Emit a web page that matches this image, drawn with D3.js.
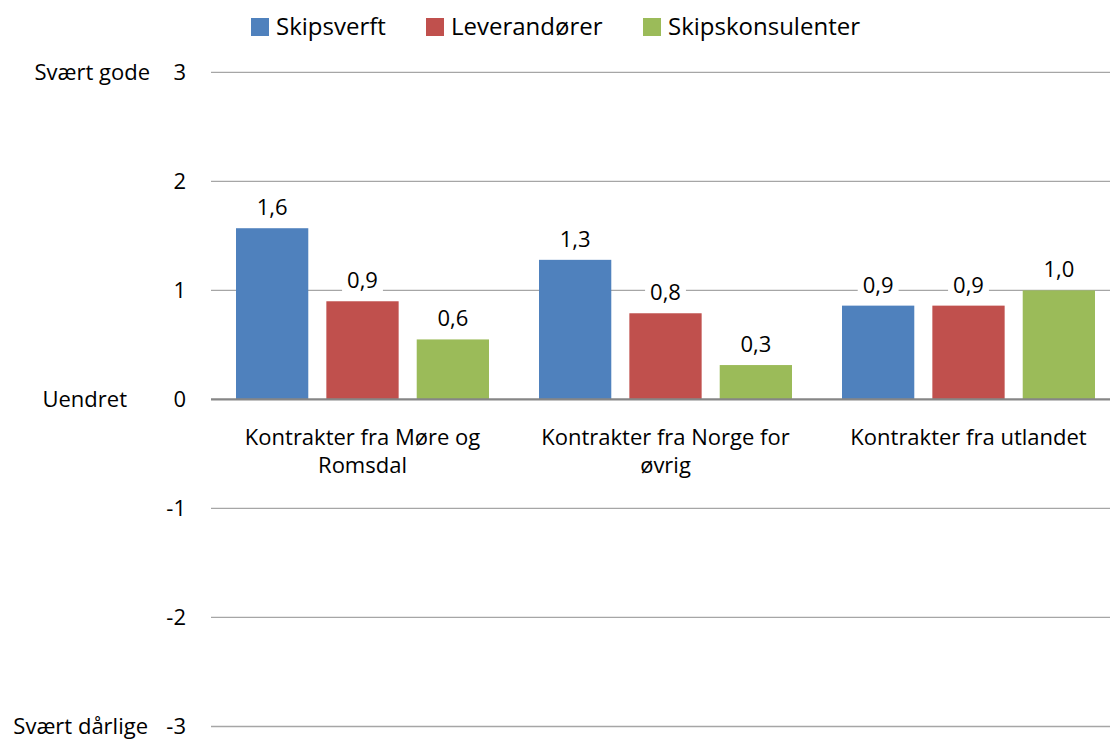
<!DOCTYPE html>
<html><head><meta charset="utf-8">
<script src="https://cdn.jsdelivr.net/npm/d3@7"></script>
<style>body{margin:0;background:#fff;} text{font-family:"Open Sans",sans-serif;fill:#000;}</style>
</head><body><svg id="c" width="1110" height="740"></svg>
<script>
const categories = [["Kontrakter fra Møre og","Romsdal"],["Kontrakter fra Norge for","øvrig"],["Kontrakter fra utlandet"]];
const series = ["Skipsverft","Leverandører","Skipskonsulenter"];
const colors = ["#4F81BD","#C0504D","#9BBB59"];
const skipsverft = [1.57, 1.28, 0.86];
const leverandorer = [0.90, 0.79, 0.86];
const skipskonsulenter = [0.55, 0.315, 1.0];
const yTicks = [-3,-2,-1,0,1,2,3];
const yTickNames = [{v:3,t:"Svært gode"},{v:0,t:"Uendret"},{v:-3,t:"Svært dårlige"}];
const values = [skipsverft, leverandorer, skipskonsulenter];

const FS = "22px";
const svg = d3.select("#c");
const x0 = d3.scaleBand().domain(d3.range(categories.length)).range([211,1120]).paddingInner(0).paddingOuter(0);
const x1 = d3.scaleBand().domain(d3.range(series.length)).range([25, x0.bandwidth()-25]).paddingInner(0.2).paddingOuter(0);
const y = d3.scaleLinear().domain([-3,3]).range([726.5,72.3]);

// gridlines
svg.append("g").selectAll("line").data(yTicks.filter(d=>d!==0)).join("line")
  .attr("x1",211).attr("x2",1110).attr("y1",d=>y(d)).attr("y2",d=>y(d))
  .attr("stroke","#A6A6A6").attr("stroke-width",1.3);

// y axis labels
const ya = d3.axisLeft(y).tickValues(yTicks).tickSize(0).tickPadding(0).tickFormat(d=>d<0?"-"+Math.abs(d):d);
const yg = svg.append("g").attr("transform","translate(186,0)").call(ya);
yg.select(".domain").remove();
yg.selectAll("text").style("font-size",FS).style("font-family","'Open Sans',sans-serif").attr("fill","#000");
const nameEnd = {"Svært gode":150,"Uendret":127,"Svært dårlige":148};
svg.append("g").selectAll("text").data(yTickNames).join("text")
  .attr("x",d=>nameEnd[d.t]).attr("y",d=>y(d.v)).attr("dy","0.35em")
  .attr("text-anchor","end").style("font-size",FS).text(d=>d.t);

// bars
const g = svg.append("g");
const groups = g.selectAll("g").data(categories.map((c,i)=>i)).join("g")
  .attr("transform",i=>`translate(${x0(i)},0)`);
groups.selectAll("rect").data(i=>values.map((s,j)=>({j, v:s[i]}))).join("rect")
  .attr("x",d=>x1(d.j)).attr("width",x1.bandwidth())
  .attr("y",d=>y(Math.max(0,d.v))).attr("height",d=>Math.abs(y(d.v)-y(0)))
  .attr("fill",d=>colors[d.j]);

// data labels
const fmt = v => d3.format(".1f")(v).replace(".",",");
groups.each(function(i){
  const gg = d3.select(this);
  values.forEach((s,j)=>{
    const cx = x1(j)+x1.bandwidth()/2, ty = y(s[i]) - 13;
    const t = gg.append("text").attr("x",cx).attr("y",ty).attr("text-anchor","middle")
      .style("font-size",FS).text(fmt(s[i]));
    const bb = t.node().getBBox();
    gg.insert("rect","text").attr("x",bb.x-5).attr("y",bb.y+2).attr("width",bb.width+10).attr("height",bb.height-4).attr("fill","#fff");
  });
});

// zero line
svg.append("line").attr("x1",211).attr("x2",1110).attr("y1",y(0)).attr("y2",y(0))
  .attr("stroke","#868686").attr("stroke-width",2.2);

// category labels
svg.append("g").selectAll("text").data(categories).join("text")
  .attr("x",(d,i)=>x0(i)+x0.bandwidth()/2).attr("y",445).attr("text-anchor","middle")
  .style("font-size",FS)
  .selectAll("tspan").data(d=>d).join("tspan")
  .attr("x",function(){return d3.select(this.parentNode).attr("x");})
  .attr("dy",(d,k)=>k===0?0:28).text(d=>d);

// legend
const legX = [251,426,643];
const lg = svg.append("g").selectAll("g").data(series).join("g").attr("transform",(d,i)=>`translate(${legX[i]},0)`);
lg.append("rect").attr("x",0).attr("y",18).attr("width",18).attr("height",18).attr("fill",(d,i)=>colors[i]);
lg.append("text").attr("x",25).attr("y",27).attr("dy","0.35em").style("font-size","24px").text(d=>d);
</script></body></html>
